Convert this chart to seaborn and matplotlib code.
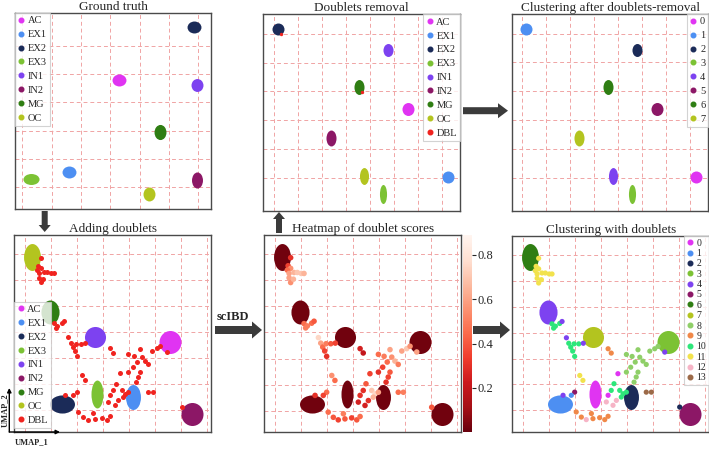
import matplotlib

matplotlib.use("Agg")

import matplotlib.pyplot as plt
import numpy as np
import pandas as pd
import seaborn as sns
from matplotlib.cm import ScalarMappable
from matplotlib.colors import Normalize
from matplotlib.lines import Line2D
from matplotlib.markers import MarkerStyle
from matplotlib.patches import FancyArrow, FancyArrowPatch
from matplotlib.transforms import Affine2D

# ---- data (UMAP coordinates rescaled to 0-100 per panel) ----
CELL_TYPES = ["AC", "EX1", "EX2", "EX3", "IN1", "IN2", "MG", "OC"]
CLUSTER_IDS = list(range(14))
CLUSTER_COLORS = ["#e034f2", "#4d8ff2", "#1b2b58", "#7cc234", "#7d42f0", "#8c1766", "#2f7e13",
                  "#b3c41f", "#8fcf68", "#f08848", "#2de67a", "#f2e24c", "#f6b4c6", "#9c6a48"]
DBL_COLOR = "#f0231f"

# ground truth embedding
GT_X = [53.0, 27.6, 91.5, 8.0, 92.7, 92.7, 74.0, 68.4]
GT_Y = [65.8, 19.0, 92.7, 15.3, 63.3, 14.8, 39.4, 7.5]
GT_W = [7.1, 7.1, 7.1, 8.2, 6.1, 5.6, 6.1, 6.1]
GT_H = [6.1, 6.1, 6.1, 5.6, 6.6, 8.2, 7.7, 7.1]

# embedding after doublet removal
RM_X = [73.7, 93.7, 7.3, 61.0, 63.6, 34.3, 48.7, 51.4]
RM_Y = [51.9, 17.4, 92.5, 8.5, 81.8, 37.0, 62.9, 18.0]
RM_W = [6.1, 6.1, 6.1, 3.6, 5.1, 5.1, 5.1, 4.6]
RM_H = [6.6, 6.1, 6.1, 9.7, 6.6, 8.1, 7.6, 8.6]
RM_CLUSTER = [5, 0, 1, 3, 2, 7, 6, 4]
RM_DBL_X = [8.8, 50.2]
RM_DBL_Y = [90.0, 60.5]

# embedding with doublets
DB_X = [79.2, 60.5, 24.1, 41.9, 41.0, 90.2, 18.1, 8.8]
DB_Y = [45.8, 17.8, 14.4, 19.5, 48.3, 9.3, 61.0, 89.0]
DB_W = [11.2, 7.6, 12.7, 6.1, 10.7, 11.2, 9.2, 8.6]
DB_H = [11.7, 12.7, 9.2, 14.2, 10.7, 11.7, 12.2, 13.7]
DB_CLUSTER = [3, 2, 1, 0, 7, 5, 4, 6]
DB_SCORE = [0.02, 0.02, 0.02, 0.02, 0.02, 0.02, 0.02, 0.02]

DBL_X = [13.4, 12.1, 13.4, 11.7, 12.6, 15.1, 16.8, 18.8, 20.2, 12.6, 13.4, 14.8,
         20.2, 21.9, 24.1, 25.3, 21.0,
         27.5, 28.7, 29.7, 30.7, 31.7, 31.4, 33.8, 36.1,
         48.7, 50.3,
         58.0, 60.9, 63.9, 64.8, 66.4, 68.1, 62.5, 60.2, 58.0, 63.9, 63.0, 61.9, 69.9, 72.4, 74.1, 77.5,
         53.7, 51.7, 50.3, 48.7, 47.8, 54.6, 56.3, 58.0, 55.4, 52.9, 51.2, 68.1, 70.7,
         34.3, 35.9, 31.7, 30.0,
         32.5, 35.1, 37.6, 40.2, 41.0, 44.4, 47.0, 48.7,
         25.8, 85.1]
DBL_Y = [88.5, 84.4, 83.1, 82.2, 80.5, 81.0, 81.0, 80.5, 80.5, 78.3, 75.9, 77.6,
         55.1, 53.9, 55.3, 56.3, 52.9,
         48.0, 45.2, 43.2, 41.2, 38.5, 44.9, 44.9, 45.2,
         42.4, 40.2,
         39.5, 38.5, 41.9, 38.1, 36.1, 34.4, 35.6, 33.0, 30.5, 30.5, 28.0, 25.4, 41.2, 42.4, 43.6, 40.7,
         29.7, 24.6, 21.2, 18.7, 15.3, 21.2, 19.5, 20.3, 17.8, 16.1, 13.6, 20.3, 20.3,
         28.8, 26.3, 20.3, 18.7,
         10.2, 7.6, 6.3, 9.4, 6.8, 7.3, 6.3, 8.0,
         18.7, 12.7]
DBL_SCORE = [0.30, 0.35, 0.55, 0.45, 0.60, 0.65, 0.70, 0.70, 0.65, 0.60, 0.55, 0.65,
             0.45, 0.50, 0.45, 0.40, 0.50,
             0.75, 0.60, 0.45, 0.35, 0.30, 0.50, 0.40, 0.35,
             0.25, 0.20,
             0.45, 0.50, 0.60, 0.55, 0.65, 0.50, 0.45, 0.35, 0.30, 0.40, 0.35, 0.30, 0.60, 0.70, 0.55, 0.60,
             0.35, 0.40, 0.30, 0.30, 0.25, 0.70, 0.75, 0.60, 0.65, 0.30, 0.25, 0.45, 0.50,
             0.55, 0.45, 0.45, 0.35,
             0.45, 0.40, 0.35, 0.50, 0.40, 0.35, 0.40, 0.45,
             0.30, 0.40]
DBL_CLUSTER = [11, 11, 11, 11, 11, 11, 11, 11, 11, 11, 11, 11,
               10, 10, 10, 4, 10,
               4, 10, 10, 10, 10, 10, 10, 4,
               9, 9,
               8, 8, 8, 8, 8, 8, 8, 8, 8, 8, 8, 8, 8, 8, 8, 4,
               0, 10, 10, 0, 12, 10, 10, 10, 10, 12, 12, 13, 13,
               11, 11, 5, 1,
               9, 9, 12, 9, 9, 9, 9, 9,
               4, 2]

SCORE_RANGE = (0.0, 0.89)
SCORE_TICKS = [0.2, 0.4, 0.6, 0.8]

# ---- style ----
sns.set_style("white")
plt.rcParams["font.family"] = ["Liberation Serif", "DejaVu Serif"]
GRID_COLOR = "#f0a4a4"
SPINE_COLOR = "#4a4a4a"
ARROW_COLOR = "#3b3b3b"
W, H = 709, 449


def px_axes(fig, left, top, right, bottom):
    return fig.add_axes([left / W, (H - bottom) / H, (right - left) / W, (bottom - top) / H])


def setup(ax, title, xticks, yticks):
    ax.set_xlim(0, 100)
    ax.set_ylim(0, 100)
    ax.set_xticks(xticks)
    ax.set_yticks(yticks)
    ax.grid(True, color=GRID_COLOR, linestyle=(0, (4, 3)), linewidth=0.7)
    ax.tick_params(length=0, labelbottom=False, labelleft=False)
    ax.set_xlabel("")
    ax.set_ylabel("")
    for sp in ax.spines.values():
        sp.set_color(SPINE_COLOR)
        sp.set_linewidth(1.0)
    if title:
        ax.set_title(title, fontsize=9.5, pad=2)


def blobs(ax, xs, ys, ws, hs, colors):
    k = ax.get_position().width * W * 0.72 / 100
    for x, y, w, h, c in zip(xs, ys, ws, hs, colors):
        m = MarkerStyle("o", transform=Affine2D().scale(w * k, h * k))
        sns.scatterplot(x=[x], y=[y], ax=ax, marker=m, s=1, color=c, linewidth=0, legend=False)


def legend(ax, labels, colors, loc, anchor, fs=7.5, spacing=0.44):
    handles = [Line2D([], [], ls="", marker="o", markersize=3.3, color=c, label=l)
               for l, c in zip(labels, colors)]
    lg = ax.legend(handles=handles, loc=loc, bbox_to_anchor=anchor, fontsize=fs,
                   handlelength=0.6, handletextpad=0.35, labelspacing=spacing,
                   borderpad=0.3, borderaxespad=0, fancybox=False, framealpha=0.8,
                   edgecolor="#c8c8c8")
    lg.get_frame().set_linewidth(0.8)
    lg.set_zorder(5)


fig = plt.figure(figsize=(W / 100, H / 100), dpi=100)

top1 = (np.arange(7) * 14.97 + 3.7, np.arange(6) * 14.45 + 11.1)
top2 = (np.arange(8) * 12.2 + 5.4, np.arange(6) * 14.6 + 17.0)
bot = (np.arange(8) * 13.2 + 5.4, np.arange(7) * 13.2 + 11.0)

type_colors = CLUSTER_COLORS[:8]

# ground truth
ax1 = px_axes(fig, 15, 13, 211, 209)
blobs(ax1, GT_X, GT_Y, GT_W, GT_H, type_colors)
setup(ax1, "Ground truth", *top1)
legend(ax1, CELL_TYPES, type_colors, "upper left", (0, 1))

# doublets removal
ax2 = px_axes(fig, 263.3, 14.3, 460, 211)
blobs(ax2, RM_X, RM_Y, RM_W, RM_H, type_colors)
sns.scatterplot(x=RM_DBL_X, y=RM_DBL_Y, ax=ax2, s=6, color=DBL_COLOR, linewidth=0, legend=False)
setup(ax2, "Doublets removal", *top2)
legend(ax2, CELL_TYPES + ["DBL"], type_colors + [DBL_COLOR], "upper right", (1, 1))

# clustering after removal
ax3 = px_axes(fig, 511.7, 14, 708.5, 211)
blobs(ax3, RM_X, RM_Y, RM_W, RM_H, [CLUSTER_COLORS[c] for c in RM_CLUSTER])
setup(ax3, "Clustering after doublets-removal", *top2)
legend(ax3, [str(i) for i in range(8)], CLUSTER_COLORS[:8], "upper right", (1, 1))

dbl = pd.DataFrame({"x": DBL_X, "y": DBL_Y, "score": DBL_SCORE, "cluster": DBL_CLUSTER})

# adding doublets
ax4 = px_axes(fig, 14.3, 235, 211, 432)
blobs(ax4, DB_X, DB_Y, DB_W, DB_H, type_colors)
sns.scatterplot(data=dbl, x="x", y="y", ax=ax4, s=13, color=DBL_COLOR, linewidth=0, legend=False)
setup(ax4, "Adding doublets", *bot)
legend(ax4, CELL_TYPES + ["DBL"], type_colors + [DBL_COLOR], "lower left", (0, 0.02))

# heatmap of doublet scores
cmap = plt.get_cmap("Reds_r")
norm = Normalize(*SCORE_RANGE)
ax5 = px_axes(fig, 264.3, 235, 461, 432.3)
blobs(ax5, DB_X, DB_Y, DB_W, DB_H, [cmap(norm(s)) for s in DB_SCORE])
sns.scatterplot(data=dbl, x="x", y="y", hue="score", palette="Reds_r", hue_norm=norm,
                ax=ax5, s=16, linewidth=0, legend=False)
setup(ax5, "Heatmap of doublet scores", *bot)
cax = px_axes(fig, 462.7, 235, 471.7, 432.3)
cb = fig.colorbar(ScalarMappable(norm=norm, cmap=cmap), cax=cax, ticks=SCORE_TICKS)
cb.outline.set_visible(False)
cax.tick_params(labelsize=9, length=3, width=0.8, pad=1)

# clustering with doublets
ax6 = px_axes(fig, 512.3, 235.7, 709, 432)
blobs(ax6, DB_X, DB_Y, DB_W, DB_H, [CLUSTER_COLORS[c] for c in DB_CLUSTER])
sns.scatterplot(data=dbl, x="x", y="y", hue="cluster", palette={i: CLUSTER_COLORS[i] for i in CLUSTER_IDS},
                ax=ax6, s=14, linewidth=0, legend=False)
setup(ax6, "Clustering with doublets", *bot)
legend(ax6, [str(i) for i in CLUSTER_IDS], CLUSTER_COLORS, "upper right", (1, 1), fs=7, spacing=0.14)

# big arrows between panels (pixel geometry -> inches)
def big_arrow(x0, y0, x1, y1, shaft, head, head_len):
    fig.add_artist(FancyArrow(x0 / 100, (H - y0) / 100, (x1 - x0) / 100, -(y1 - y0) / 100,
                              width=shaft / 100, head_width=head / 100, head_length=head_len / 100,
                              length_includes_head=True, color=ARROW_COLOR, linewidth=0,
                              transform=fig.dpi_scale_trans))


big_arrow(44.7, 211, 44.7, 232, 6, 12, 7)
big_arrow(279, 233, 279, 212, 6, 12, 7)
big_arrow(463, 110.7, 508, 110.7, 7, 15, 10)
big_arrow(215, 330, 262, 330, 8, 17, 10)
big_arrow(473, 330, 510, 330, 8, 17, 10)
fig.text(233 / W, (H - 317) / H, "scIBD", fontsize=9, fontweight="bold", ha="center", va="center")

# UMAP axis hint
for end in [(9.3, 388), (60, 432)]:
    fig.add_artist(FancyArrowPatch((9.3 / 100, (H - 432) / 100), (end[0] / 100, (H - end[1]) / 100),
                                   arrowstyle="-|>", mutation_scale=6, linewidth=1.0, color="black",
                                   shrinkA=0, shrinkB=0, transform=fig.dpi_scale_trans))
fig.text(31.5 / W, (H - 442) / H, "UMAP_1", fontsize=6, fontweight="bold", ha="center", va="center")
fig.text(5 / W, (H - 410) / H, "UMAP_2", fontsize=6, fontweight="bold", ha="center", va="center",
         rotation=90)

fig.savefig("out.png", dpi=100)
